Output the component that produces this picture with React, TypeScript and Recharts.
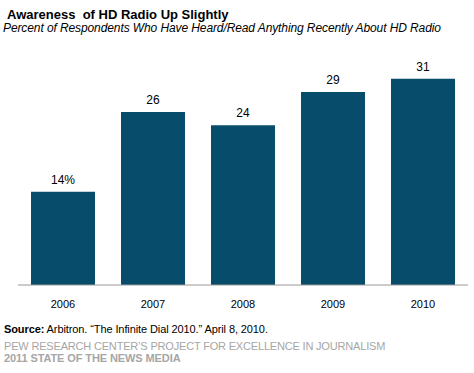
import { BarChart, Bar, XAxis, YAxis, LabelList } from "recharts";

const years = ["2006", "2007", "2008", "2009", "2010"];
const awareness = [14, 26, 24, 29, 31];

const data = years.map((year, i) => ({ year, value: awareness[i] }));

const FONT = "'Liberation Sans', Arial, sans-serif";
const BAR_COLOR = "#084c6b";

export default function App() {
  return (
    <div
      style={{
        position: "absolute",
        left: 0,
        top: 0,
        width: 474,
        height: 373,
        background: "#fff",
        fontFamily: FONT,
      }}
    >
      {/* titulos */}
      <div style={{ position: "absolute", left: 7, top: 8, fontSize: 13, lineHeight: "14px", fontWeight: "bold", color: "#000" }}>
        Awareness&nbsp; of HD Radio Up Slightly
      </div>
      <div style={{ position: "absolute", left: 3, top: 22, fontSize: 12, lineHeight: "13px", fontStyle: "italic", color: "#000", letterSpacing: -0.1, whiteSpace: "nowrap" }}>
        Percent of Respondents Who Have Heard/Read Anything Recently About HD Radio
      </div>

      <div style={{ position: "absolute", left: 0, top: 0 }}>
        <BarChart
          width={474}
          height={373}
          data={data}
          margin={{ top: 52, right: 6, bottom: 0, left: 18 }}
          barCategoryGap={13}
        >
          <XAxis
            dataKey="year"
            tickLine={false}
            axisLine={{ stroke: "#999", strokeWidth: 1 }}
            tick={{ fill: "#000", fontSize: 11, fontFamily: FONT }}
            tickMargin={9}
            height={88}
          />
          <YAxis hide domain={[0, 35]} />
          <Bar dataKey="value" fill={BAR_COLOR} isAnimationActive={false}>
            <LabelList
              dataKey="value"
              position="top"
              offset={8}
              fill="#000"
              fontSize={12}
              fontFamily={FONT}
              formatter={(v: any) => (v === awareness[0] ? `${v}%` : `${v}`)}
            />
          </Bar>
        </BarChart>
      </div>

      {/* fonte */}
      <div style={{ position: "absolute", left: 4, top: 323, fontSize: 11, lineHeight: "13px", color: "#000", letterSpacing: -0.1, whiteSpace: "nowrap" }}>
        <b>Source:</b> Arbitron. “The Infinite Dial 2010.” April 8, 2010.
      </div>
      <div style={{ position: "absolute", left: 4, top: 340, fontSize: 11, lineHeight: "13px", color: "#a6a6a6", letterSpacing: -0.18, whiteSpace: "nowrap" }}>
        PEW RESEARCH CENTER’S PROJECT FOR EXCELLENCE IN JOURNALISM
      </div>
      <div style={{ position: "absolute", left: 4, top: 352, fontSize: 11, lineHeight: "13px", color: "#a6a6a6", fontWeight: "bold", letterSpacing: -0.1, whiteSpace: "nowrap" }}>
        2011 STATE OF THE NEWS MEDIA
      </div>
    </div>
  );
}
